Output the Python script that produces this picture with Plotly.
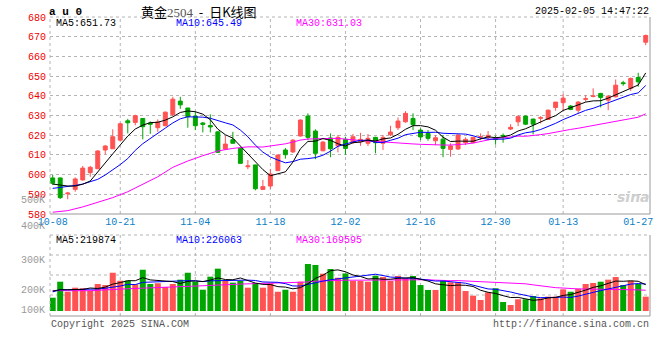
import plotly.graph_objects as go
import pandas as pd

# ---------------- data ----------------
TICK_IDX = [0, 9, 19, 29, 39, 49, 59, 68, 78]
TICK_LABELS = ["10-08", "10-21", "11-04", "11-18", "12-02", "12-16", "12-30", "01-13", "01-27"]

OPEN = [598.3, 598.3, 590.3, 592.5, 597.3, 601.0, 603.0, 612.5, 613.1, 617.5,
        627.3, 626.5, 628.5, 626.2, 623.8, 624.8, 630.4, 637.3, 633.8, 629.7,
        626.2, 624.9, 621.7, 613.0, 617.7, 613.3, 604.0, 604.9, 592.5, 594.2,
        602.0, 612.5, 611.5, 619.6, 629.7, 622.1, 612.1, 618.6, 614.6, 617.9,
        616.4, 616.7, 615.9, 618.9, 615.9, 620.2, 623.8, 626.8, 628.5, 622.6,
        620.9, 617.2, 618.0, 612.8, 613.0, 616.2, 616.2, 619.0, 618.9, 618.3,
        619.9, 623.1, 626.8, 629.7, 628.2, 628.6, 628.0, 634.1, 636.5, 634.8,
        632.7, 638.2, 639.7, 641.2, 637.8, 639.5, 646.6, 643.8, 649.3, 667.2]
HIGH = [599.8, 598.5, 591.2, 598.6, 604.4, 604.4, 612.3, 615.0, 623.0, 626.3,
        628.3, 630.4, 628.6, 627.0, 628.0, 632.0, 639.5, 639.5, 633.9, 631.9,
        626.7, 630.6, 622.0, 619.6, 621.7, 613.5, 607.4, 605.0, 597.3, 602.7,
        610.3, 613.5, 618.0, 628.0, 631.1, 623.0, 617.0, 620.9, 620.1, 619.2,
        620.6, 621.2, 620.6, 619.2, 620.1, 624.8, 629.0, 632.2, 631.1, 623.5,
        622.6, 620.1, 620.1, 615.9, 620.4, 618.9, 619.2, 620.9, 622.1, 619.7,
        620.9, 625.6, 630.2, 630.1, 628.3, 629.7, 633.0, 636.9, 640.9, 635.3,
        637.3, 640.4, 643.8, 641.5, 640.4, 648.3, 647.6, 649.3, 651.7, 671.1]
LOW = [594.7, 587.6, 587.5, 591.3, 596.9, 598.9, 602.7, 610.3, 613.0, 617.2,
       620.9, 625.0, 617.9, 620.7, 621.7, 624.5, 629.7, 633.4, 623.8, 622.6,
       621.4, 621.4, 611.0, 612.5, 615.8, 605.5, 602.7, 592.0, 592.2, 592.8,
       601.8, 608.1, 611.0, 619.3, 617.5, 607.8, 611.8, 608.8, 611.3, 610.1,
       615.5, 614.6, 614.5, 610.8, 612.5, 619.6, 622.6, 626.3, 622.6, 617.5,
       617.2, 615.0, 608.8, 609.1, 612.5, 615.0, 615.9, 617.5, 617.5, 615.2,
       616.2, 622.6, 624.6, 625.1, 620.4, 626.0, 627.8, 632.4, 632.4, 632.7,
       631.1, 637.0, 639.2, 634.1, 632.7, 639.2, 645.1, 642.5, 644.6, 665.7]
CLOSE = [595.6, 588.3, 590.6, 597.8, 603.3, 603.7, 612.0, 614.5, 619.2, 625.8,
         626.3, 629.9, 624.3, 625.6, 626.7, 631.7, 638.3, 635.4, 629.4, 624.8,
         625.5, 624.2, 611.3, 615.5, 615.9, 605.7, 604.4, 592.8, 593.9, 600.3,
         609.9, 610.1, 617.5, 627.7, 618.9, 610.8, 616.5, 613.1, 618.9, 613.3,
         619.2, 617.9, 618.4, 616.2, 618.9, 621.6, 627.2, 631.1, 625.3, 619.1,
         618.4, 618.7, 613.3, 614.5, 620.1, 617.9, 618.9, 619.2, 619.9, 617.8,
         619.6, 624.0, 629.4, 625.6, 625.6, 628.9, 632.7, 636.8, 638.8, 633.1,
         636.8, 638.5, 639.9, 639.2, 639.8, 645.4, 646.2, 648.8, 647.1, 670.6]
VOLUME = [111000, 245000, 161000, 195000, 190000, 170000, 226000, 217000, 320000, 253000,
          253000, 223000, 345000, 226000, 232000, 201000, 226000, 262000, 320000, 245000,
          178000, 287000, 354000, 251000, 237000, 251000, 195000, 234000, 195000, 232000,
          161000, 178000, 161000, 245000, 393000, 385000, 312000, 351000, 278000, 314000,
          251000, 251000, 245000, 295000, 284000, 251000, 293000, 273000, 293000, 217000,
          176000, 176000, 251000, 240000, 240000, 167000, 128000, 92000, 156000, 190000,
          75000, 50000, 98000, 98000, 125000, 106000, 120000, 120000, 181000, 161000,
          186000, 226000, 234000, 245000, 262000, 284000, 217000, 253000, 226000, 120000]

# moving-average values before a full window exists
MA5_HEAD = [595.2, 594.7, 594.2, 594.2]
MA10_HEAD = [593.0, 593.4, 593.9, 594.5, 595.2, 596.4, 597.6, 599.8, 602.3]
MA30_HEAD_IDX = [0, 2, 4, 6, 8, 10, 12, 14, 16, 18, 20, 22, 24, 26, 28]
MA30_HEAD = [580.9, 581.7, 583.6, 585.8, 588.3, 591.3, 595.1, 598.9, 603.7, 606.9,
             609.6, 612.0, 613.3, 614.1, 614.0]
VMA5_HEAD = [167000, 178000, 178000, 178000]
VMA10_HEAD = [160000, 178000, 178000, 178000, 178000, 180000, 184000, 190000, 198000]
VMA30_HEAD_IDX = [0, 5, 10, 15, 20, 25, 28]
VMA30_HEAD = [170000, 170000, 186000, 196000, 211000, 225000, 230000]

PRICE_TICKS = [580, 590, 600, 610, 620, 630, 640, 650, 660, 670, 680]
VOL_TICK_LABELS = ["500K", "400K", "300K", "200K", "100K"]

TITLE_CODE = "a u 0"
LEGEND_PRICE = ["MA5:651.73", "MA10:645.49", "MA30:631.03"]
LEGEND_VOL = ["MA5:219874", "MA10:226063", "MA30:169595"]
TIMESTAMP = "2025-02-05 14:47:22"

# ---------------- derived series ----------------
n = len(CLOSE)
idx = list(range(n))
cs = pd.Series(CLOSE)
vs = pd.Series(VOLUME, dtype=float)

def with_head(series, window, head):
    r = series.rolling(window).mean().tolist()
    for i, v in enumerate(head):
        r[i] = v
    return r

ma5 = with_head(cs, 5, MA5_HEAD)
ma10 = with_head(cs, 10, MA10_HEAD)
ma30_x = MA30_HEAD_IDX + idx[29:]
ma30_y = MA30_HEAD + cs.rolling(30).mean().tolist()[29:]

vma5 = with_head(vs, 5, VMA5_HEAD)
vma10 = with_head(vs, 10, VMA10_HEAD)
vma30_x = VMA30_HEAD_IDX + idx[29:]
vma30_y = VMA30_HEAD + vs.rolling(30).mean().tolist()[29:]

RED = "#ff5252"
GREEN = "#00a600"
up = [c >= o for o, c in zip(OPEN, CLOSE)]
vol_colors = [RED if u else GREEN for u in up]

# ---------------- layout helpers (screen pixel -> paper) ----------------
W, H = 660, 360
PLOT_L, PLOT_R = 50, 650
L, R = PLOT_L, W - PLOT_R

def py(p):
    return 1 - p / H

def px(p):
    return (p - PLOT_L) / (PLOT_R - PLOT_L)

MONO = "Liberation Mono"
GRID = "#b4b4b4"
BORDER = "#999999"

fig = go.Figure()

fig.add_trace(go.Candlestick(
    x=idx, open=OPEN, high=HIGH, low=LOW, close=CLOSE,
    increasing=dict(line=dict(color=RED, width=1), fillcolor=RED),
    decreasing=dict(line=dict(color=GREEN, width=1), fillcolor=GREEN),
    whiskerwidth=0, xaxis="x", yaxis="y", showlegend=False, hoverinfo="skip"))
fig.add_trace(go.Scatter(x=ma30_x, y=ma30_y, mode="lines", showlegend=False,
                         line=dict(color="#ff00ff", width=1), xaxis="x", yaxis="y"))
fig.add_trace(go.Scatter(x=idx, y=ma10, mode="lines", showlegend=False,
                         line=dict(color="#0000ff", width=1), xaxis="x", yaxis="y"))
fig.add_trace(go.Scatter(x=idx, y=ma5, mode="lines", showlegend=False,
                         line=dict(color="#000000", width=1), xaxis="x", yaxis="y"))

fig.add_trace(go.Bar(x=idx, y=VOLUME, marker=dict(color=vol_colors, line=dict(width=0)),
                     showlegend=False, xaxis="x2", yaxis="y2"))
fig.add_trace(go.Scatter(x=vma30_x, y=vma30_y, mode="lines", showlegend=False,
                         line=dict(color="#ff00ff", width=1), xaxis="x2", yaxis="y2"))
fig.add_trace(go.Scatter(x=idx, y=vma10, mode="lines", showlegend=False,
                         line=dict(color="#0000ff", width=1), xaxis="x2", yaxis="y2"))
fig.add_trace(go.Scatter(x=idx, y=vma5, mode="lines", showlegend=False,
                         line=dict(color="#000000", width=1), xaxis="x2", yaxis="y2"))

xr = [-0.36, 79.57]
price_dom = [py(214), py(17)]
vol_dom = [py(316), py(235)]
vol_zero_px = 311
vol_px_per_unit = 0.1196 / 1000
vol_range = [-(316 - vol_zero_px) / vol_px_per_unit, (vol_zero_px - 235) / vol_px_per_unit]

fig.update_layout(
    width=W, height=H, autosize=False, margin=dict(l=L, r=R, t=0, b=0, pad=0),
    paper_bgcolor="white", plot_bgcolor="white",
    font=dict(family=MONO, size=10, color="black"),
    boxgap=0.25, bargap=0.2, showlegend=False,
    xaxis=dict(domain=[0, 1], range=xr, anchor="y", showgrid=False, zeroline=False,
               automargin=False, ticklabeloverflow="allow",
               tickmode="array", tickvals=TICK_IDX, ticktext=TICK_LABELS,
               tickfont=dict(family=MONO, size=10, color="#0a80c8"),
               ticks="", rangeslider=dict(visible=False), fixedrange=True),
    yaxis=dict(domain=price_dom, range=[580, 680], anchor="x", showgrid=True,
               automargin=False, ticklabeloverflow="allow",
               gridcolor=GRID, griddash="dot", gridwidth=1, zeroline=False,
               tickmode="array", tickvals=PRICE_TICKS, ticks="",
               ticklabelstandoff=3,
               tickfont=dict(family=MONO, size=10, color="#ee0000")),
    xaxis2=dict(domain=[0, 1], range=xr, anchor="y2", matches="x", showgrid=False,
                automargin=False, rangeslider=dict(visible=False),
                zeroline=False, showticklabels=False, ticks=""),
    yaxis2=dict(domain=vol_dom, range=vol_range, anchor="x2", showgrid=False,
                automargin=False,
                zeroline=False, showticklabels=False, ticks=""),
)

shapes = []
# vertical date gridlines
for i in TICK_IDX[1:-1]:
    for xa, ya in (("x", "y domain"), ("x2", "y2 domain")):
        shapes.append(dict(type="line", xref=xa, yref=ya, x0=i, x1=i, y0=0, y1=1,
                           line=dict(color=GRID, width=1, dash="dot"), layer="below"))
# volume horizontal gridlines (panel split in quarters)
for f in (21 / 81, 41 / 81, 61 / 81):
    shapes.append(dict(type="line", xref="paper", yref="y2 domain", x0=0, x1=1, y0=f, y1=f,
                       line=dict(color=GRID, width=1, dash="dot"), layer="below"))
# panel borders
for ya in ("y domain", "y2 domain"):
    shapes.append(dict(type="line", xref="paper", yref=ya, x0=0, x1=1, y0=1, y1=1,
                       line=dict(color=GRID, width=1, dash="dot")))
    shapes.append(dict(type="line", xref="paper", yref=ya, x0=0, x1=0, y0=0, y1=1,
                       line=dict(color=GRID, width=1, dash="dot")))
    shapes.append(dict(type="line", xref="paper", yref=ya, x0=0, x1=1, y0=0, y1=0,
                       line=dict(color=BORDER, width=1)))
    shapes.append(dict(type="line", xref="paper", yref=ya, x0=1, x1=1, y0=0, y1=1,
                       line=dict(color=BORDER, width=1)))
fig.update_layout(shapes=shapes)

ann = []
def text(x, y, s, anchor="left", color="black", size=10, family=MONO):
    ann.append(dict(x=px(x), y=py(y), xref="paper", yref="paper", text=s, showarrow=False,
                    xanchor=anchor, yanchor="middle", borderpad=0,
                    font=dict(family=family, size=size, color=color)))

text(48, 12, "<b>" + TITLE_CODE + "</b>", size=11)
text(140, 12, "黄金<span style='font-family:Liberation Serif;color:#555555'>2504</span>"
     "\u00a0\u00a0-\u00a0\u00a0日K线图", size=13, family="Noto Sans CJK SC")
text(650, 12, TIMESTAMP, anchor="right")
for x, s, c in zip((55, 175, 295), LEGEND_PRICE, ("black", "#0000ff", "#ff00ff")):
    text(x, 24, s, color=c)
for x, s, c in zip((55, 175, 295), LEGEND_VOL, ("black", "#0000ff", "#ff00ff")):
    text(x, 241, s, color=c)
for y, s in zip((200, 226, 260.5, 290.5, 310.5), VOL_TICK_LABELS):
    text(46, y, s, anchor="right", color="#9a9a9a")
text(50, 324, "Copyright 2025 SINA.COM", color="#555555")
text(650, 324, "http://finance.sina.com.cn", anchor="right", color="#555555")
text(633, 197, "<b><i>sina</i></b>", anchor="center", color="#cfcfcf", size=14, family="DejaVu Sans")
fig.update_layout(annotations=ann)

# the page body's default 8px margin would push the figure off the 660x360 window
fig.write_html("out.html", config={"displayModeBar": False, "responsive": False},
               post_script="document.body.style.margin='0px';")
